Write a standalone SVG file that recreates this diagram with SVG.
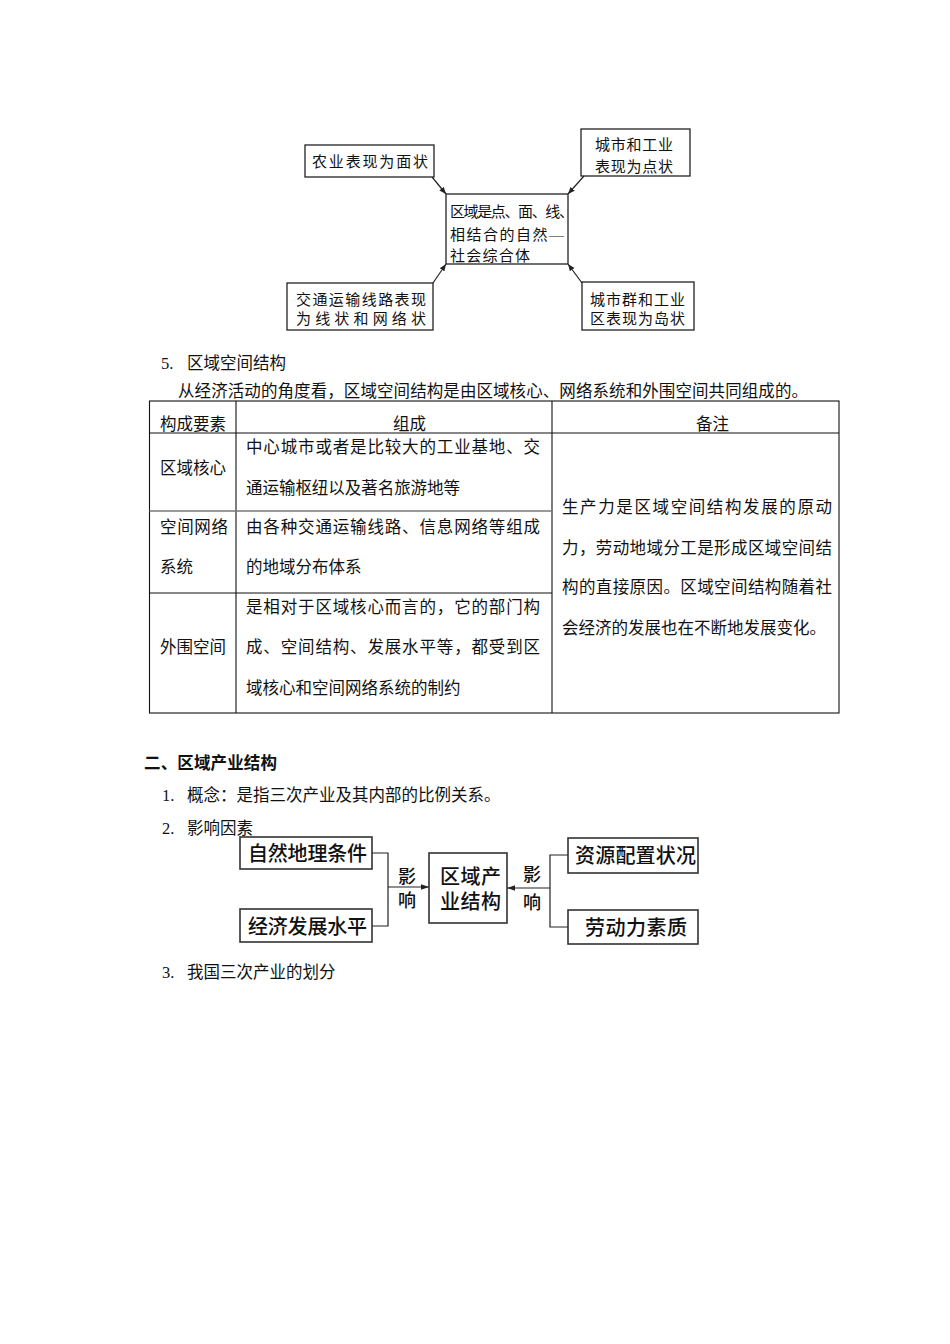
<svg xmlns="http://www.w3.org/2000/svg" width="950" height="1344" viewBox="0 0 950 1344">
<style>
text{font-family:"Liberation Serif","Noto Sans CJK SC",serif;fill:#111}
.t{font-size:16.5px}
.s{font-size:15px}
.b{font-size:20px;font-weight:500}
.h{font-size:18px;font-weight:500}
.box{fill:#fff;stroke:#222;stroke-width:1.3}
.bx2{fill:#fff;stroke:#333;stroke-width:1.6}
.ln{fill:none;stroke:#222;stroke-width:1.2}
.tb{fill:none;stroke:#111;stroke-width:1.1}
</style>
<defs>
<marker id="ah" viewBox="0 0 10 10" refX="10" refY="5" markerWidth="7" markerHeight="7" orient="auto" markerUnits="userSpaceOnUse">
<path d="M0,1 L10,5 L0,9 z" fill="#222"/>
</marker>
<marker id="ah2" viewBox="0 0 10 10" refX="10" refY="5" markerWidth="10" markerHeight="8" orient="auto" markerUnits="userSpaceOnUse">
<path d="M0,1.5 L10,5 L0,8.5 z" fill="#222"/>
</marker>
</defs>

<!-- top diagram -->
<g id="connectors1">
<line class="ln" x1="432" y1="177" x2="446" y2="194" marker-end="url(#ah)"/>
<line class="ln" x1="584" y1="176" x2="568" y2="194" marker-end="url(#ah)"/>
<line class="ln" x1="433" y1="283" x2="446" y2="264" marker-end="url(#ah)"/>
<line class="ln" x1="582" y1="283" x2="568" y2="264" marker-end="url(#ah)"/>
</g>
<g id="n-agri">
<rect class="box" x="305" y="145" width="129" height="32"/>
<text class="s" x="312" y="167" textLength="116" lengthAdjust="spacing">农业表现为面状</text>
</g>
<g id="n-city">
<rect class="box" x="581" y="129" width="109" height="47"/>
<text class="s" x="595" y="150" textLength="78" lengthAdjust="spacing">城市和工业</text>
<text class="s" x="595" y="172" textLength="78" lengthAdjust="spacing">表现为点状</text>
</g>
<g id="n-center">
<rect class="box" x="446" y="194" width="122" height="70"/>
<text class="s" x="450" y="217" textLength="124" lengthAdjust="spacing">区域是点、面、线、</text>
<text class="s" x="450" y="240" textLength="114" lengthAdjust="spacing">相结合的自然—</text>
<text class="s" x="450" y="261" textLength="80" lengthAdjust="spacing">社会综合体</text>
</g>
<g id="n-transport">
<rect class="box" x="287" y="283" width="146" height="47"/>
<text class="s" x="296" y="305" textLength="130" lengthAdjust="spacing">交通运输线路表现</text>
<text class="s" x="296" y="324" textLength="130" lengthAdjust="spacing">为线状和网络状</text>
</g>
<g id="n-cluster">
<rect class="box" x="582" y="282" width="112" height="48"/>
<text class="s" x="590" y="305" textLength="95" lengthAdjust="spacing">城市群和工业</text>
<text class="s" x="590" y="324" textLength="95" lengthAdjust="spacing">区表现为岛状</text>
</g>

<!-- section 5 -->
<g id="sec5">
<text class="t" x="161" y="369">5.</text>
<text class="t" x="187" y="369">区域空间结构</text>
<text class="t" x="178" y="397" textLength="630" lengthAdjust="spacing">从经济活动的角度看，区域空间结构是由区域核心、网络系统和外围空间共同组成的。</text>
</g>

<g id="table">
<rect class="tb" x="149.5" y="401" width="689.5" height="312"/>
<line class="tb" x1="236" y1="401" x2="236" y2="713"/>
<line class="tb" x1="552" y1="401" x2="552" y2="713"/>
<line class="tb" x1="149.5" y1="433" x2="839" y2="433"/>
<line stroke="#777" stroke-width="1.3" x1="149.5" y1="511" x2="552" y2="511"/>
<line class="tb" x1="149.5" y1="593" x2="552" y2="593"/>
<text class="t" x="160" y="430">构成要素</text>
<text class="t" x="393" y="430">组成</text>
<text class="t" x="696" y="430">备注</text>

<text class="t" x="160" y="474">区域核心</text>
<text class="t" x="246" y="453" textLength="294" lengthAdjust="spacing">中心城市或者是比较大的工业基地、交</text>
<text class="t" x="246" y="494" textLength="214" lengthAdjust="spacing">通运输枢纽以及著名旅游地等</text>

<text class="t" x="160" y="533" textLength="68" lengthAdjust="spacing">空间网络</text>
<text class="t" x="160" y="573">系统</text>
<text class="t" x="246" y="533" textLength="294" lengthAdjust="spacing">由各种交通运输线路、信息网络等组成</text>
<text class="t" x="246" y="573">的地域分布体系</text>

<text class="t" x="160" y="653">外围空间</text>
<text class="t" x="246" y="613" textLength="294" lengthAdjust="spacing">是相对于区域核心而言的，它的部门构</text>
<text class="t" x="246" y="653" textLength="294" lengthAdjust="spacing">成、空间结构、发展水平等，都受到区</text>
<text class="t" x="246" y="694">域核心和空间网络系统的制约</text>

<text class="t" x="562" y="513" textLength="270" lengthAdjust="spacing">生产力是区域空间结构发展的原动</text>
<text class="t" x="562" y="554" textLength="270" lengthAdjust="spacing">力，劳动地域分工是形成区域空间结</text>
<text class="t" x="562" y="593" textLength="270" lengthAdjust="spacing">构的直接原因。区域空间结构随着社</text>
<text class="t" x="562" y="634">会经济的发展也在不断地发展变化。</text>
</g>

<!-- section 二 -->
<g id="sec2">
<text class="t" x="144" y="769" font-weight="bold" textLength="133" lengthAdjust="spacing">二、区域产业结构</text>
<text class="t" x="162" y="801">1.</text>
<text class="t" x="187" y="801">概念：是指三次产业及其内部的比例关系。</text>
<text class="t" x="162" y="834">2.</text>
<text class="t" x="187" y="834">影响因素</text>
<text class="t" x="162" y="978">3.</text>
<text class="t" x="187" y="978">我国三次产业的划分</text>
</g>

<!-- bottom diagram -->
<g id="connectors2">
<polyline class="ln" points="372,853 388,853 388,926 372,926"/>
<line class="ln" x1="388" y1="887" x2="429" y2="887" marker-end="url(#ah2)"/>
<polyline class="ln" points="568,855 550,855 550,927 568,927"/>
<line class="ln" x1="550" y1="888" x2="507" y2="888" marker-end="url(#ah2)"/>
<text class="h" x="398" y="883">影</text>
<text class="h" x="398" y="907">响</text>
<text class="h" x="523" y="881">影</text>
<text class="h" x="523" y="909">响</text>
</g>
<g id="n-natural">
<rect class="bx2" x="240" y="837" width="132" height="32"/>
<text class="b" x="248" y="861" textLength="119" lengthAdjust="spacing">自然地理条件</text>
</g>
<g id="n-economy">
<rect class="bx2" x="240" y="909" width="132" height="33"/>
<text class="b" x="248" y="934" textLength="119" lengthAdjust="spacing">经济发展水平</text>
</g>
<g id="n-industry">
<rect class="bx2" x="429" y="853" width="78" height="70"/>
<text class="b" x="440" y="884" textLength="61" lengthAdjust="spacing">区域产</text>
<text class="b" x="440" y="909" textLength="61" lengthAdjust="spacing">业结构</text>
</g>
<g id="n-resource">
<rect class="bx2" x="568" y="838" width="130" height="35"/>
<text class="b" x="575" y="863" textLength="121" lengthAdjust="spacing">资源配置状况</text>
</g>
<g id="n-labor">
<rect class="bx2" x="568" y="910" width="130" height="34"/>
<text class="b" x="585" y="935" textLength="102" lengthAdjust="spacing">劳动力素质</text>
</g>
</svg>
